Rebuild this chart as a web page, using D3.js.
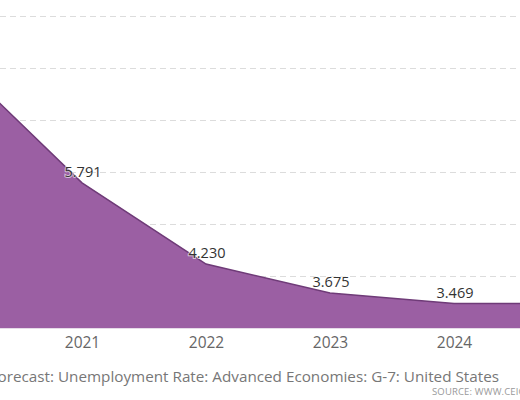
<!DOCTYPE html>
<html>
<head>
<meta charset="utf-8">
<script src="https://cdn.jsdelivr.net/npm/d3@7"></script>
<style>
  body { margin: 0; background: #fff; }
  svg { display: block; font-family: "Open Sans", "DejaVu Sans", sans-serif; }
</style>
</head>
<body>
<div id="chart-area"></div>
<script>
// IMF forecast, US unemployment rate (%)
var years = [2020, 2021, 2022, 2023, 2024, 2025];
var rates = [8.1, 5.791, 4.230, 3.675, 3.469, 3.47];
var yearTicks = [2021, 2022, 2023, 2024];
var gridTicks = [3, 4, 5, 6, 7, 8, 9];

var data = years.map(function(d, i) { return { year: d, value: rates[i] }; });

var width = 520, height = 400;

var svg = d3.select("#chart-area")
  .append("svg")
  .attr("width", width)
  .attr("height", height);

// the plot is a crop of a wider chart, so 2020 and 2025 fall off the edges
var x = d3.scaleLinear()
  .domain([2020, 2025])
  .range([-42, 578]);

var y = d3.scaleLinear()
  .domain([3, 9])
  .range([328, 16]);

// dashed grid
svg.append("g")
  .attr("class", "grid")
  .call(d3.axisLeft(y).tickValues(gridTicks).tickSize(-width).tickFormat(""))
  .call(function(g) { g.select(".domain").remove(); })
  .selectAll("line")
  .attr("stroke", "#dcdcdc")
  .attr("stroke-dasharray", "6,4");

var area = d3.area()
  .x(function(d) { return x(d.year); })
  .y0(y(3))
  .y1(function(d) { return y(d.value); });

var line = d3.line()
  .x(function(d) { return x(d.year); })
  .y(function(d) { return y(d.value); });

svg.append("path")
  .datum(data)
  .attr("d", area)
  .attr("fill", "#9b5fa3");

svg.append("path")
  .datum(data)
  .attr("d", line)
  .attr("fill", "none")
  .attr("stroke", "#6f3b78")
  .attr("stroke-width", 1.5);

// light baseline under the area
svg.append("line")
  .attr("x1", 0)
  .attr("x2", width)
  .attr("y1", y(3) + 0.5)
  .attr("y2", y(3) + 0.5)
  .attr("stroke", "#e6dbe8")
  .attr("stroke-width", 1);

// value labels
svg.append("g")
  .selectAll("text")
  .data(data)
  .enter()
  .append("text")
  .attr("x", function(d) { return x(d.year) + 1; })
  .attr("y", function(d) { return y(d.value) - 6; })
  .attr("text-anchor", "middle")
  .attr("font-size", "14.5px")
  .attr("fill", "#333")
  .attr("stroke", "#fff")
  .attr("stroke-width", 2)
  .attr("stroke-opacity", 0.6)
  .attr("paint-order", "stroke")
  .text(function(d) { return d3.format(".3f")(d.value); });

// x axis labels
var xAxis = svg.append("g")
  .attr("transform", "translate(0," + y(3) + ")")
  .call(d3.axisBottom(x).tickValues(yearTicks).tickFormat(d3.format("d")).tickSize(0).tickPadding(9));

xAxis.select(".domain").remove();
xAxis.selectAll("text")
  .attr("font-family", "'Open Sans', sans-serif")
  .attr("font-size", "15.5px")
  .attr("fill", "#666");

// legend (cut off at the left like the source)
svg.append("text")
  .attr("x", 499)
  .attr("y", 382)
  .attr("text-anchor", "end")
  .attr("font-size", "15.25px")
  .attr("fill", "#777")
  .text("IMF Forecast: Unemployment Rate: Advanced Economies: G-7: United States");

svg.append("text")
  .attr("x", 432)
  .attr("y", 395)
  .attr("font-size", "9.5px")
  .attr("letter-spacing", "0.15px")
  .attr("fill", "#999")
  .text("SOURCE: WWW.CEICDATA.COM | IMF");
</script>
</body>
</html>
